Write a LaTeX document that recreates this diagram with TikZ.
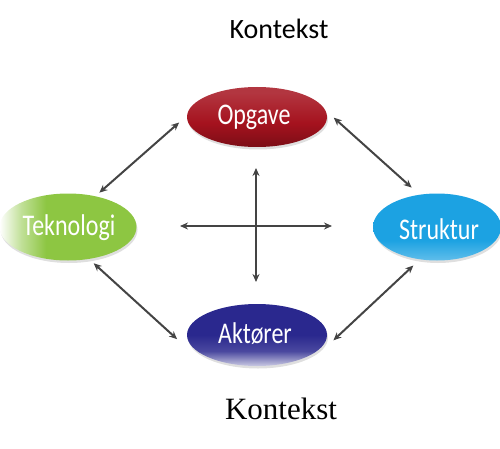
\documentclass[tikz,border=0pt]{standalone}
\usepackage{fontspec}
\setmainfont{Liberation Serif}
\newfontfamily\calib{Carlito}
\usetikzlibrary{arrows.meta}
\usetikzlibrary{shapes.geometric}
\usetikzlibrary{shadows}

\definecolor{opgred}{RGB}{165,18,30}
\definecolor{tekgreen}{RGB}{141,198,66}
\definecolor{strblue}{RGB}{28,162,226}
\definecolor{aktnavy}{RGB}{42,40,142}
\definecolor{arrowgray}{RGB}{68,68,68}

\pgfdeclareverticalshading{opgshade}{100bp}{color(0bp)=(opgred!75!black); color(25bp)=(opgred!75!black);
  color(45bp)=(opgred); color(70bp)=(opgred!85!white); color(100bp)=(opgred!85!white)}
\pgfdeclarehorizontalshading{tekshade}{100bp}{color(0bp)=(white); color(25bp)=(white);
  color(33bp)=(tekgreen!55!white); color(42bp)=(tekgreen); color(100bp)=(tekgreen)}
\pgfdeclareverticalshading{strshade}{100bp}{color(0bp)=(strblue!70!white); color(25bp)=(strblue!70!white);
  color(40bp)=(strblue); color(100bp)=(strblue)}
\pgfdeclareverticalshading{aktshade}{100bp}{color(0bp)=(aktnavy!25!white); color(25bp)=(aktnavy!25!white);
  color(37bp)=(aktnavy!85!white); color(50bp)=(aktnavy); color(100bp)=(aktnavy)}

\newcommand{\ovaltext}[1]{\scalebox{0.8}[1]{\calib\fontsize{30}{33}\selectfont #1}}

\tikzset{
  oval/.style={ellipse, inner sep=0pt, outer sep=0pt, text=white,
    drop shadow={shadow xshift=1pt, shadow yshift=-2.5pt, opacity=.25, fill=gray}},
  biarrow/.style={{Stealth[length=8pt,width=7pt]}-{Stealth[length=8pt,width=7pt]},
    line width=2pt, draw=arrowgray, shorten <=1pt, shorten >=1pt}
}

\begin{document}
\begin{tikzpicture}[x=1pt,y=-1pt]

  \useasboundingbox (0,0) rectangle (500,449);

  \node (ktop) at (279,29) {\calib\fontsize{28}{32}\selectfont Kontekst};
  \node (kbot) at (281,409) {\fontsize{31}{34}\selectfont Kontekst};

  \node[oval, minimum width=140pt, minimum height=60pt, shading=opgshade] (opg) at (257,117) {};
  \node at (254,117) {\color{white}\ovaltext{Opgave}};

  \node[oval, minimum width=137pt, minimum height=67pt, shading=tekshade] (tek) at (68,227) {};
  \node at (69,228) {\color{white}\ovaltext{Teknologi}};

  \node[oval, minimum width=128pt, minimum height=67pt, shading=strshade] (str) at (437,227) {};
  \node at (439,229) {\color{white}\ovaltext{Struktur}};

  \node[oval, minimum width=140pt, minimum height=62pt, shading=aktshade] (akt) at (257,335) {};
  \node at (255,334) {\color{white}\ovaltext{Aktører}};

  % diagonal arrows
  \draw[biarrow] ([xshift=-8pt]opg.184) -- ([shift={(3pt,3pt)}]tek.48);
  \draw[biarrow] ([xshift=6pt]opg.0) -- ([shift={(-4pt,7pt)}]str.123);
  \draw[biarrow] ([shift={(2pt,-4pt)}]tek.-54) -- ([xshift=-10pt]akt.184);
  \draw[biarrow] ([shift={(-3pt,-6pt)}]str.238) -- ([xshift=7pt]akt.355);

  % cross in the middle
  \coordinate (cn) at (256,167);
  \coordinate (cs) at (256,283);
  \coordinate (cw) at (179,226);
  \coordinate (ce) at (333,226);
  \draw[biarrow] (cn) -- (cs);
  \draw[biarrow] (cw) -- (ce);

\end{tikzpicture}
\end{document}
